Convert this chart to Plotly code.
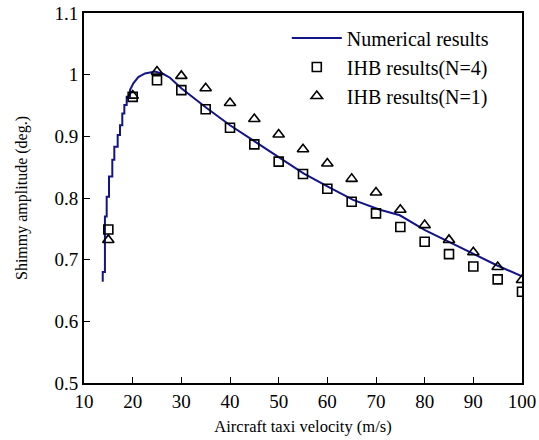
import plotly.graph_objects as go

# Numerical results (staircase corners on rising part)
num_v = [13.85, 13.85, 14.3, 14.3, 14.66, 14.66, 15.14, 15.14, 15.82, 15.82, 16.23, 16.23,
         16.92, 16.92, 17.40, 17.40, 17.87, 17.87, 18.29, 18.29, 18.77, 18.77, 19.45, 19.45,
         20.14, 21.16, 22.53, 24.59, 26.3, 27.67, 30.0, 35.2, 40.0, 44.1, 48.2, 55.1,
         60.2, 65.3, 70.8, 74.9, 80.06, 84.9, 90.0, 94.8, 100.0]
num_amp = [0.664, 0.680, 0.680, 0.770, 0.770, 0.802, 0.802, 0.835, 0.835, 0.862, 0.862, 0.883,
           0.883, 0.902, 0.902, 0.918, 0.918, 0.937, 0.937, 0.951, 0.951, 0.964, 0.964, 0.975,
           0.986, 0.996, 1.002, 1.005, 1.001, 0.995, 0.978, 0.946, 0.918, 0.897, 0.875, 0.840,
           0.818, 0.797, 0.781, 0.772, 0.748, 0.729, 0.710, 0.691, 0.673]

ihb_v = [15, 20, 25, 30, 35, 40, 45, 50, 55, 60, 65, 70, 75, 80, 85, 90, 95, 100]
ihb_n4 = [0.749, 0.964, 0.991, 0.975, 0.944, 0.914, 0.887, 0.859, 0.839, 0.815, 0.794,
          0.775, 0.753, 0.729, 0.709, 0.689, 0.668, 0.648]
ihb_n1 = [0.732, 0.966, 1.005, 0.998, 0.978, 0.954, 0.928, 0.903, 0.879, 0.856, 0.831,
          0.809, 0.781, 0.756, 0.732, 0.712, 0.688, 0.667]

x_ticks = [10, 20, 30, 40, 50, 60, 70, 80, 90, 100]
y_ticks = [0.5, 0.6, 0.7, 0.8, 0.9, 1.0, 1.1]
y_tick_text = ["0.5", "0.6", "0.7", "0.8", "0.9", "1", "1.1"]

font_family = "Liberation Serif"

fig = go.Figure()
fig.add_trace(go.Scatter(x=num_v, y=num_amp, mode="lines", name="Numerical results",
                         line=dict(color="#14148a", width=2), legendgroup="a"))
fig.add_trace(go.Scatter(x=ihb_v, y=ihb_n4, mode="markers", name="IHB results(N=4)",
                         marker=dict(symbol="square-open", size=9, color="black",
                                     line=dict(width=1.6, color="black")), legendgroup="b"))
fig.add_trace(go.Scatter(x=ihb_v, y=ihb_n1, mode="markers", name="IHB results(N=1)",
                         marker=dict(symbol="triangle-up-open", size=10, color="black",
                                     line=dict(width=1.6, color="black")), legendgroup="c"))

fig.update_layout(
    width=539, height=440,
    margin=dict(l=84, r=17, t=13, b=57, autoexpand=False),
    paper_bgcolor="white", plot_bgcolor="white",
    font=dict(family=font_family, size=16, color="black"),
    showlegend=True,
    legend=dict(x=0.463, y=0.985, xanchor="left", yanchor="top",
                bgcolor="rgba(0,0,0,0)", borderwidth=0,
                traceorder="grouped", tracegroupgap=0,
                font=dict(family=font_family, size=20, color="black"),
                itemwidth=50),
    xaxis=dict(range=[10, 100], tickvals=x_ticks, ticks="inside", ticklen=6,
               tickwidth=1, tickcolor="black", showline=True, linecolor="black",
               linewidth=2, mirror=True, showgrid=False, zeroline=False,
               automargin=False,
               tickfont=dict(family=font_family, size=19),
               title=dict(text="Aircraft taxi velocity (m/s)", standoff=10,
                          font=dict(family=font_family, size=16.5))),
    yaxis=dict(range=[0.5, 1.1], tickvals=y_ticks, ticktext=y_tick_text, ticks="inside",
               ticklen=6, tickwidth=1, tickcolor="black", showline=True,
               linecolor="black", linewidth=2, mirror=True, showgrid=False,
               zeroline=False, automargin=False,
               tickfont=dict(family=font_family, size=19),
               title=dict(text="Shimmy amplitude (deg.)", standoff=23,
                          font=dict(family=font_family, size=16))),
)

fig.write_html(
    "out.html",
    config={"displayModeBar": False},
    post_script="document.body.style.margin='0';document.body.style.overflow='hidden';",
)
